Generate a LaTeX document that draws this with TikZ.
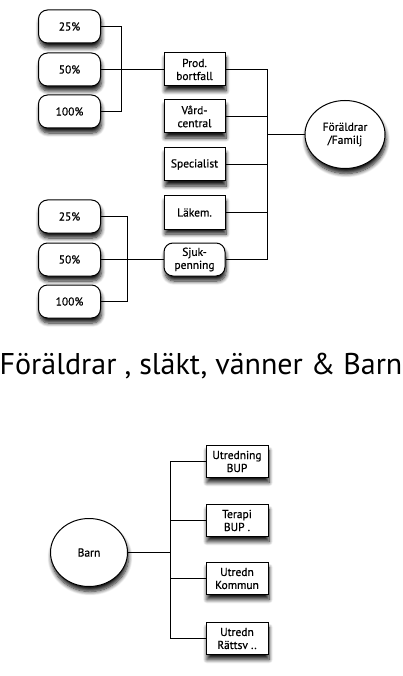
\documentclass[tikz,border=0pt]{standalone}
\usepackage{fontspec}
\setmainfont{PT Sans}
\newfontfamily\lblfont[FakeBold=0.6]{PT Sans}
\usetikzlibrary{shapes.geometric,shadows.blur}

\tikzset{
  shade/.style={blur shadow={shadow xshift=1pt, shadow yshift=-5pt, shadow opacity=90, shadow blur steps=8, shadow blur radius=4pt}},
  pct/.style={draw, line width=1pt, fill=white, rounded corners=9pt, minimum width=62pt, minimum height=33pt, shade, font=\lblfont\fontsize{11.5}{13}\selectfont},
  item/.style={draw, line width=1pt, fill=white, minimum width=61pt, minimum height=33pt, inner sep=1pt, align=center, shade, font=\lblfont\fontsize{11.5}{13}\selectfont},
  roundbox/.style={item, rounded corners=9pt},
  person/.style={draw, ellipse, line width=1pt, fill=white, align=center, inner sep=0pt, shade, font=\lblfont\fontsize{11.5}{13}\selectfont},
  link/.style={line width=1pt}
}

\begin{document}
\begin{tikzpicture}[x=1pt,y=1pt]
		%%%%% START %%%%%
		\useasboundingbox (0,0) rectangle (403,-676);
		
		% upper tree
		\node[pct] (t25) at (69.5,-26.5) {25\%};
		\node[pct] (t50) at (69.5,-69.5) {50\%};
		\node[pct] (t100) at (69.5,-111.5) {100\%};
		
		\node[pct] (s25) at (69.5,-216.5) {25\%};
		\node[pct] (s50) at (69.5,-259.5) {50\%};
		\node[pct] (s100) at (69.5,-301.5) {100\%};
		
		\node[item] (prod) at (194.5,-69.5) {Prod.\\bortfall};
		\node[item] (vard) at (194.5,-116.5) {Vård-\\central};
		\node[item] (spec) at (194.5,-164.5) {Specialist};
		\node[item] (lakem) at (194.5,-212.5) {Läkem.};
		\node[roundbox] (sjuk) at (194.5,-259.5) {Sjuk-\\penning};
		
		\node[person, minimum width=80pt, minimum height=68pt] (fam) at (345,-134.5) {Föräldrar\\/Familj};
		
		\coordinate (tj) at (121.5,-69.5);
		\coordinate (sj) at (127.5,-259.5);
		\coordinate (rj) at (267.5,-134.5);
		
		\draw[link] (t25.east) -| (tj) |- (t100.east);
		\draw[link] (t50.east) -- (prod.west);
		\draw[link] (s25.east) -| (sj) |- (s100.east);
		\draw[link] (s50.east) -- (sjuk.west);
		
		\draw[link] (prod.east) -| (rj);
		\draw[link] (vard.east) -| (rj);
		\draw[link] (spec.east) -| (rj);
		\draw[link] (lakem.east) -| (rj);
		\draw[link] (sjuk.east) -| (rj);
		\draw[link] (rj) -- (fam.west);
		
		% title
		\node[font=\fontsize{30}{36}\selectfont, inner sep=0pt] (title) at (201,-366) {Föräldrar , släkt, vänner \& Barn};
		
		% lower tree
		\node[person, minimum width=77pt, minimum height=68pt] (barn) at (89,-552.5) {Barn};
		
		\node[item, minimum width=62pt, minimum height=32pt] (ubup) at (237,-461.5) {Utredning\\BUP};
		\node[item, minimum width=62pt, minimum height=32pt] (tbup) at (237,-520.5) {Terapi\\BUP .};
		\node[item, minimum width=62pt, minimum height=32pt] (ukom) at (237,-578.5) {Utredn\\Kommun};
		\node[item, minimum width=62pt, minimum height=32pt] (urat) at (237,-638.5) {Utredn\\Rättsv ..};
		
		\coordinate (bj) at (170.5,-552.5);
		\draw[link] (barn.east) -- (bj);
		\draw[link] (bj) |- (ubup.west);
		\draw[link] (bj) |- (tbup.west);
		\draw[link] (bj) |- (ukom.west);
		\draw[link] (bj) |- (urat.west);
		
		%%%%% END %%%%%
	\end{tikzpicture}
\end{document}
